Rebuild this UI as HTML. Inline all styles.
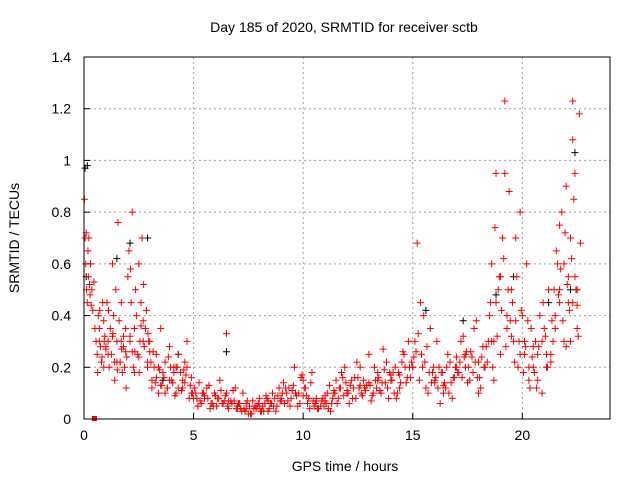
<!DOCTYPE html>
<html><head><meta charset="utf-8"><style>
body{margin:0;background:#fff}
svg{display:block;font-family:"Liberation Sans",sans-serif}
</style></head><body>
<svg id="chart" width="640" height="480">
<text x="344" y="32" font-size="14" text-anchor="middle">Day 185 of 2020, SRMTID for receiver sctb</text>
<text x="345" y="471" font-size="14" text-anchor="middle">GPS time / hours</text>
<text transform="translate(19,238) rotate(-90)" font-size="14" text-anchor="middle">SRMTID / TECUs</text>
<g id="grid"></g><g id="ticks"></g><g id="marks"></g>
<rect x="84" y="57" width="526" height="362" fill="none" stroke="#000"/>
</svg>
<script>
const xTicks=[0,5,10,15,20];
const yTicks=[0,0.2,0.4,0.6,0.8,1,1.2,1.4];
const yTickLabels=["0","0.2","0.4","0.6","0.8","1","1.2","1.4"];
const redHours=[0.02,0.05,0.08,0.1,0.12,0.15,0.18,0.2,0.22,0.25,0.28,0.3,0.33,0.36,0.4,0.45,
0.55,0.6,0.65,0.7,0.75,0.8,0.85,0.9,0.95,1.0,0.62,0.72,0.82,0.92,
1.05,1.1,1.15,1.2,1.25,1.3,1.35,1.4,1.45,1.5,1.55,1.6,1.65,1.7,1.75,1.8,1.85,1.9,1.95,1.12,1.32,1.52,1.72,1.92,
2.0,2.05,2.1,2.15,2.2,2.25,2.3,2.35,2.4,2.45,2.5,2.55,2.6,2.65,2.7,2.75,2.8,2.85,2.9,2.95,2.12,2.32,2.52,2.72,2.92,
3.0,3.1,3.2,3.3,3.4,3.5,3.6,3.7,3.8,3.9,3.05,3.25,3.45,3.65,3.85,3.15,3.55,3.95,
4.0,4.1,4.2,4.3,4.4,4.5,4.6,4.7,4.8,4.9,4.05,4.25,4.45,4.65,4.85,4.15,4.55,4.95,
5.0,5.2,5.4,5.6,5.8,6.0,6.2,6.4,6.6,6.8,5.1,5.3,5.5,5.7,5.9,6.1,6.3,6.5,6.7,6.9,6.5,5.25,5.75,6.25,6.75,
7.0,7.2,7.4,7.6,7.8,8.0,8.2,8.4,8.6,8.8,7.1,7.3,7.5,7.7,7.9,8.1,8.3,8.5,8.7,8.9,7.25,7.75,8.25,8.75,
9.0,9.2,9.4,9.6,9.8,10.0,10.2,10.4,9.1,9.3,9.5,9.7,9.9,10.1,10.3,9.25,9.75,10.25,9.55,9.95,
10.5,10.7,10.9,11.1,11.3,11.5,11.7,11.9,10.6,10.8,11.0,11.2,11.4,11.6,11.8,11.25,11.75,
12.0,12.2,12.4,12.6,12.8,13.0,13.2,13.4,13.6,13.8,12.1,12.3,12.5,12.7,12.9,13.1,13.3,13.5,13.7,13.9,12.45,13.25,13.65,
14.0,14.2,14.4,14.6,14.8,14.1,14.3,14.5,14.7,14.9,14.25,14.55,14.85,
15.0,15.1,15.2,15.3,15.4,15.5,15.6,15.7,15.8,15.9,15.05,15.25,15.45,15.65,15.85,15.35,
16.0,16.2,16.4,16.6,16.8,16.1,16.3,16.5,16.7,16.9,16.25,16.75,
17.0,17.2,17.4,17.6,17.8,18.0,18.2,18.4,17.1,17.3,17.5,17.7,17.9,18.1,18.3,17.45,17.95,18.45,
18.5,18.6,18.7,18.8,18.9,19.0,19.1,19.2,19.3,19.4,18.55,18.65,18.75,18.85,18.95,19.05,19.15,19.25,19.35,19.45,18.7,19.2,
19.5,19.6,19.7,19.8,19.9,20.0,20.1,20.2,20.3,20.4,19.55,19.65,19.75,19.85,19.95,20.05,20.15,20.25,20.35,20.45,
20.5,20.6,20.7,20.8,20.9,21.0,21.1,21.2,21.3,21.4,20.55,20.75,20.95,21.15,21.35,20.65,21.05,21.45,
21.5,21.6,21.7,21.8,21.9,22.0,22.1,22.2,22.3,22.4,22.5,22.6,21.55,21.65,21.75,21.85,21.95,22.05,22.15,22.25,22.35,22.45,22.55,22.65,22.3,22.4,22.2,21.7,22.0,22.5];
const redTec=[0.85,0.7,0.6,0.72,0.5,0.45,0.65,0.55,0.7,0.52,0.48,0.6,0.44,0.5,0.42,0.53,
0.3,0.25,0.4,0.35,0.28,0.22,0.45,0.38,0.32,0.27,0.18,0.42,0.24,0.3,
0.45,0.3,0.2,0.35,0.25,0.6,0.4,0.15,0.5,0.3,0.76,0.38,0.22,0.45,0.18,0.28,0.2,0.35,0.24,0.42,0.33,0.19,0.27,0.12,
0.55,0.65,0.3,0.45,0.8,0.2,0.35,0.5,0.4,0.25,0.6,0.3,0.45,0.7,0.38,0.28,0.35,0.42,0.22,0.3,0.58,0.26,0.18,0.52,0.33,
0.3,0.15,0.2,0.25,0.1,0.35,0.18,0.22,0.12,0.28,0.22,0.14,0.19,0.16,0.24,0.26,0.13,0.2,
0.15,0.2,0.1,0.25,0.18,0.12,0.22,0.3,0.08,0.16,0.14,0.2,0.11,0.17,0.13,0.09,0.19,0.1,
0.08,0.05,0.1,0.12,0.06,0.09,0.15,0.07,0.04,0.11,0.1,0.07,0.09,0.13,0.05,0.08,0.06,0.1,0.07,0.12,0.33,0.14,0.04,0.11,0.06,
0.04,0.03,0.06,0.02,0.05,0.08,0.03,0.07,0.1,0.05,0.06,0.04,0.02,0.07,0.05,0.03,0.09,0.06,0.08,0.12,0.1,0.04,0.06,0.03,
0.08,0.12,0.05,0.2,0.1,0.15,0.06,0.18,0.14,0.07,0.11,0.09,0.16,0.12,0.04,0.1,0.05,0.08,0.13,0.17,
0.05,0.04,0.08,0.1,0.06,0.15,0.12,0.2,0.07,0.05,0.09,0.13,0.11,0.08,0.16,0.03,0.18,
0.1,0.15,0.08,0.2,0.12,0.25,0.1,0.18,0.14,0.22,0.06,0.12,0.16,0.09,0.13,0.07,0.15,0.11,0.19,0.08,0.22,0.2,0.27,
0.15,0.2,0.12,0.25,0.3,0.18,0.1,0.22,0.14,0.16,0.08,0.26,0.2,
0.2,0.3,0.68,0.15,0.25,0.4,0.12,0.1,0.35,0.18,0.24,0.33,0.2,0.28,0.14,0.45,
0.15,0.2,0.1,0.25,0.08,0.3,0.18,0.12,0.22,0.16,0.06,0.14,
0.2,0.3,0.25,0.15,0.35,0.1,0.28,0.22,0.18,0.32,0.14,0.24,0.38,0.12,0.2,0.26,0.16,0.3,
0.4,0.6,0.3,0.95,0.5,0.25,0.7,1.23,0.35,0.88,0.45,0.2,0.74,0.32,0.55,0.42,0.62,0.28,0.5,0.38,0.15,0.95,
0.5,0.3,0.7,0.2,0.8,0.4,0.25,0.6,0.15,0.35,0.45,0.22,0.55,0.3,0.42,0.18,0.28,0.38,0.12,0.24,
0.2,0.3,0.15,0.4,0.1,0.35,0.25,0.5,0.22,0.3,0.18,0.28,0.45,0.2,0.38,0.12,0.32,0.5,
0.4,0.6,0.5,0.8,0.3,0.9,0.45,0.7,1.23,0.55,0.35,1.18,0.65,0.48,0.58,0.38,0.72,0.52,0.42,0.62,0.85,0.5,0.32,0.68,1.08,0.95,0.3,0.75,0.28,0.44];
const extraHours=[0.5,0.7,0.9,1.1,1.3,1.5,1.7,1.9,2.1,2.3,2.5,2.7,2.9,3.1,3.3,3.5,3.7,3.9,4.1,4.3,4.5,4.7,4.9,
5.05,5.15,5.35,5.45,5.65,5.85,5.95,6.05,6.15,6.35,6.45,6.55,6.85,6.95,
7.05,7.15,7.35,7.45,7.55,7.65,7.85,7.95,8.05,8.15,8.35,8.45,8.55,8.65,8.85,8.95,
9.05,9.15,9.35,9.45,9.65,9.85,10.05,10.15,10.35,10.45,10.55,10.65,10.85,10.95,11.05,11.15,11.35,11.45,11.55,11.65,11.85,11.95,
12.05,12.15,12.25,12.35,12.55,12.65,12.75,12.85,13.05,13.15,13.35,13.45,13.55,13.75,13.85,13.95,
14.05,14.15,14.35,14.45,14.65,14.75,14.95,15.15,15.55,15.75,15.95,16.05,16.15,16.35,16.45,16.55,16.65,16.85,16.95,
17.05,17.15,17.25,17.35,17.55,17.65,17.75,17.85,18.05,18.15,18.25,18.35,18.6,18.8,19.0,19.3,19.5,19.7,19.9,20.1,20.3,20.5,20.7,20.9,21.1,21.3,21.5,21.7,21.9,22.1,22.3,22.5,
1.0,1.4,1.8,2.2,2.6,3.0,3.4,3.8,4.2,4.6,5.5,6.0,7.0,8.0,9.0,10.0,11.0,12.0,13.0,14.0,15.0,16.0,17.0,18.0,5.2,6.6,7.4,8.4,9.4,10.6,11.4,12.6,13.4,14.4,16.4,17.4];
const extraTec=[0.35,0.3,0.2,0.25,0.32,0.22,0.3,0.26,0.32,0.18,0.24,0.3,0.2,0.12,0.16,0.13,0.1,0.15,0.18,0.12,0.15,0.2,0.1,
0.12,0.08,0.06,0.1,0.08,0.06,0.1,0.05,0.08,0.06,0.09,0.05,0.07,0.04,
0.06,0.04,0.03,0.07,0.05,0.02,0.04,0.06,0.03,0.05,0.08,0.04,0.06,0.05,0.09,0.07,
0.1,0.06,0.12,0.08,0.1,0.06,0.12,0.09,0.14,0.07,0.06,0.04,0.07,0.05,0.06,0.04,0.08,0.1,0.06,0.12,0.09,0.14,
0.1,0.13,0.08,0.16,0.12,0.1,0.15,0.11,0.13,0.09,0.12,0.16,0.1,0.14,0.12,0.18,
0.15,0.1,0.18,0.14,0.2,0.16,0.22,0.26,0.22,0.18,0.2,0.16,0.12,0.18,0.14,0.2,0.1,0.16,0.2,
0.18,0.22,0.16,0.24,0.2,0.26,0.18,0.22,0.16,0.24,0.2,0.28,0.3,0.45,0.55,0.4,0.32,0.38,0.25,0.3,0.2,0.28,0.25,0.3,0.2,0.25,0.35,0.45,0.6,0.55,0.45,0.5,
0.28,0.22,0.32,0.26,0.36,0.26,0.2,0.12,0.2,0.14,0.08,0.09,0.05,0.05,0.07,0.09,0.07,0.11,0.14,0.17,0.2,0.14,0.24,0.22,0.05,0.07,0.04,0.03,0.05,0.08,0.1,0.13,0.15,0.17,0.13,0.2];
const blackHours=[0.05,0.1,0.15,1.5,2.1,2.9,4.3,6.5,15.6,17.3,18.8,19.6,21.2,22.4,22.2,0.3,3.6];
const blackTec=[0.97,0.55,0.98,0.62,0.68,0.7,0.25,0.26,0.42,0.38,0.48,0.55,0.45,1.03,0.5,0.6,0.15];
const sqHours=[0.45,0.5];
const sqTec=[0,0];
const X=h=>84+h*(526/24), Y=v=>419-v*(362/1.4);
const NS="http://www.w3.org/2000/svg";
const grid=document.getElementById('grid'),ticks=document.getElementById('ticks'),marks=document.getElementById('marks');
function mk(tag,at,parent){const e=document.createElementNS(NS,tag);for(const k in at)e.setAttribute(k,at[k]);parent.appendChild(e);return e;}
xTicks.forEach(t=>{
 if(t>0){const g=mk('line',{x1:X(t),x2:X(t),y1:57,y2:419,stroke:'#a0a0a0','stroke-dasharray':'2,3'},grid);
 
 }
 const l=mk('text',{x:X(t),y:440,'font-size':14,'text-anchor':'middle'},ticks);l.textContent=t;
 
 
 mk('line',{x1:X(t),x2:X(t),y1:419,y2:413,stroke:'#000'},ticks);
});
yTicks.forEach((t,i)=>{
 if(t>0&&t<1.4){const g=mk('line',{x1:84,x2:610,y1:Y(t),y2:Y(t),stroke:'#a0a0a0','stroke-dasharray':'2,3'},grid);
 
 }
 const l=mk('text',{x:71,y:Y(t)+5,'font-size':14,'text-anchor':'end'},ticks);l.textContent=yTickLabels[i];
 
 
 mk('line',{x1:84,x2:90,y1:Y(t),y2:Y(t),stroke:'#000'},ticks);
});
function plus(h,v,c,name){const x=X(h),y=Y(v);
 const p=mk('path',{d:`M${x-3.5},${y}h7M${x},${y-3.5}v7`,stroke:c,'stroke-width':1,fill:'none'},marks);
 
 }
blackHours.forEach((h,i)=>plus(h,blackTec[i],'#000','black-point'));
redHours.forEach((h,i)=>plus(h,redTec[i],'#f00','red-point'));
extraHours.forEach((h,i)=>plus(h,extraTec[i],'#f00','red-point'));
sqHours.forEach((h,i)=>{const r=mk('rect',{x:X(h)-2,y:Y(sqTec[i])-3,width:4,height:5,fill:'#f00'},marks);
 
 });
</script>
</body></html>
